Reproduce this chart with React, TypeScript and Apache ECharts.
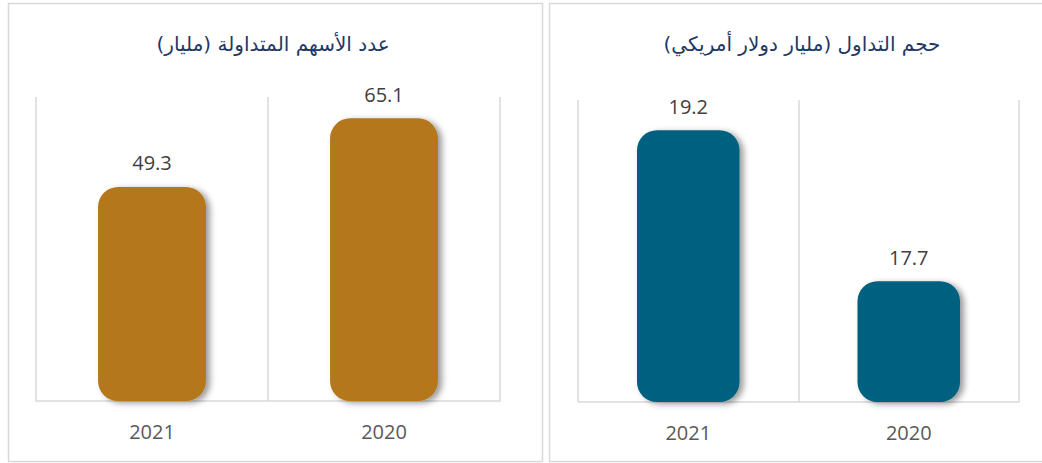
import React, { useEffect, useRef } from "react";
import * as echarts from "echarts";

const categories = ["2021", "2020"];
const sharesValues = [49.3, 65.1];
const volumeValues = [19.2, 17.7];
const sharesTitle = "عدد الأسهم المتداولة (مليار)";
const volumeTitle = "حجم التداول (مليار دولار أمريكي)";

const GOLD = "#B4771F";
const TEAL = "#00607F";
const GRID_COLOR = "#D9D9D9";

export default function App() {
  const ref = useRef<HTMLDivElement>(null);
  useEffect(() => {
    if (!ref.current) return;
    const chart = echarts.init(ref.current, undefined, { renderer: "svg" });
    const xAxisBase = (gridIndex: number) => ({
      type: "category" as const,
      gridIndex,
      data: categories,
      axisLine: { show: true, lineStyle: { color: GRID_COLOR, width: 1.5 } },
      axisTick: { show: false },
      splitLine: { show: true, lineStyle: { color: GRID_COLOR, width: 1.5 } },
      axisLabel: { color: "#595959", fontSize: 20, fontFamily: "Open Sans", margin: 20 },
    });
    const barSeries = (idx: number, data: number[], color: string) => ({
      type: "bar" as const,
      xAxisIndex: idx,
      yAxisIndex: idx,
      data,
      barWidth: "46.5%",
      itemStyle: {
        color,
        borderRadius: 20,
        shadowBlur: 6,
        shadowOffsetX: 4,
        shadowOffsetY: 2,
        shadowColor: "rgba(0,0,0,0.4)",
      },
      label: {
        show: true,
        position: "top" as const,
        distance: 14,
        color: "#404040",
        fontSize: 20,
        fontFamily: "Open Sans",
      },
    });
    chart.setOption({
      animation: false,
      backgroundColor: "#ffffff",
      title: [
        {
          text: sharesTitle,
          left: 268,
          top: 39,
          textAlign: "center",
          textVerticalAlign: "middle",
          textStyle: { color: "#1F3864", fontSize: 20, fontWeight: "normal", fontFamily: "DejaVu Sans" },
        },
        {
          text: volumeTitle,
          left: 797,
          top: 39,
          textAlign: "center",
          textVerticalAlign: "middle",
          textStyle: { color: "#1F3864", fontSize: 20, fontWeight: "normal", fontFamily: "DejaVu Sans" },
        },
      ],
      grid: [
        { left: 36, top: 97, width: 464, height: 304 },
        { left: 578, top: 100, width: 441, height: 302 },
      ],
      xAxis: [xAxisBase(0), xAxisBase(1)],
      yAxis: [
        { type: "value", gridIndex: 0, min: 0, max: 70, show: false },
        { type: "value", gridIndex: 1, min: 16.5, max: 19.5, show: false },
      ],
      series: [barSeries(0, sharesValues, GOLD), barSeries(1, volumeValues, TEAL)],
      graphic: [
        {
          type: "rect",
          shape: { x: 8.5, y: 3.5, width: 534, height: 458 },
          style: { fill: "none", stroke: GRID_COLOR, lineWidth: 1.5 },
          silent: true,
        },
        {
          type: "rect",
          shape: { x: 549.5, y: 3.5, width: 520, height: 458 },
          style: { fill: "none", stroke: GRID_COLOR, lineWidth: 1.5 },
          silent: true,
        },
      ],
    });
    return () => chart.dispose();
  }, []);
  return (
    <div
      ref={ref}
      style={{ position: "fixed", left: 0, top: 0, width: 1042, height: 463 }}
    />
  );
}
